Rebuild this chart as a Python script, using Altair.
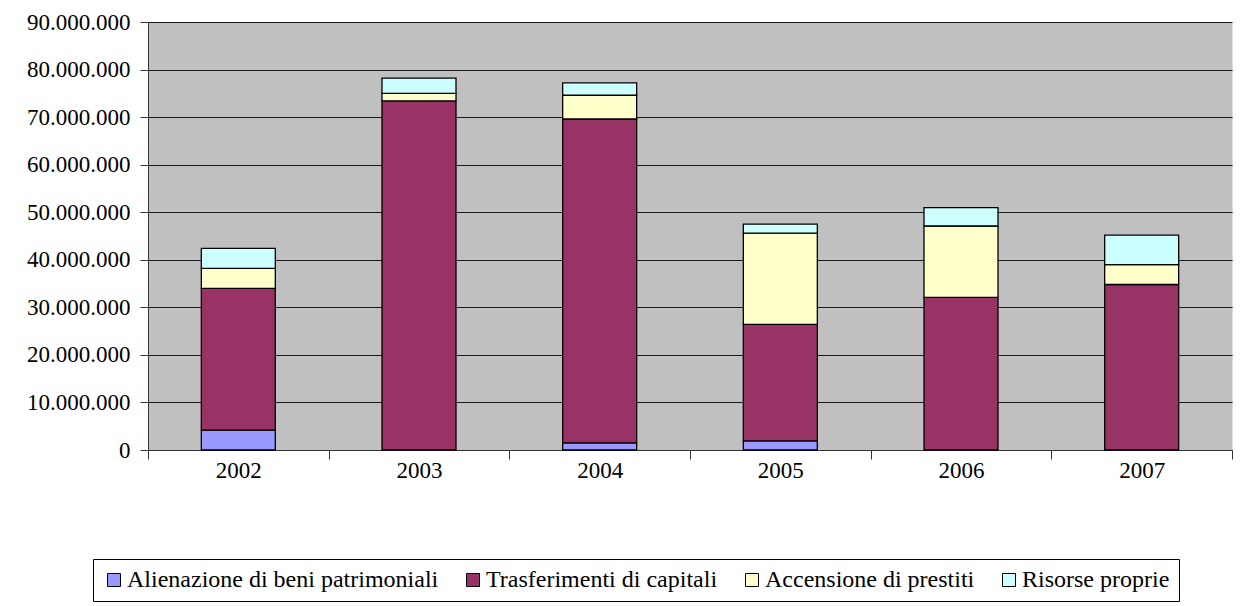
import altair as alt
import pandas as pd

# ---- data ----
anni = ["2002", "2003", "2004", "2005", "2006", "2007"]
voci = [
    "Alienazione di beni patrimoniali",
    "Trasferimenti di capitali",
    "Accensione di prestiti",
    "Risorse proprie",
]
alienazione = [4200000, 0, 1500000, 1900000, 0, 0]
trasferimenti = [29800000, 73400000, 68100000, 24500000, 32100000, 34800000]
accensione = [4200000, 1600000, 5000000, 19200000, 15000000, 4200000]
risorse = [4200000, 3200000, 2600000, 1900000, 3850000, 6200000]
colori = ["#9999FF", "#993366", "#FFFFCC", "#CCFFFF"]
y_ticks = [0, 10000000, 20000000, 30000000, 40000000, 50000000,
           60000000, 70000000, 80000000, 90000000]

serie = [alienazione, trasferimenti, accensione, risorse]
rows = []
for i, anno in enumerate(anni):
    for k, nome in enumerate(voci):
        v = serie[k][i]
        if v > 0:
            rows.append({"anno": anno, "voce": nome, "valore": v, "ordine": k})
df = pd.DataFrame(rows)

FONT = "Liberation Serif"

label_expr = "replace(replace(format(datum.value, ','), ',', '.'), ',', '.')"

chart = alt.Chart(df).mark_bar(size=74, stroke="black", strokeWidth=1.3).encode(
    x=alt.X(
        "anno:N",
        sort=anni,
        scale=alt.Scale(paddingInner=0, paddingOuter=0),
        axis=alt.Axis(
            title=None, labelAngle=0, tickBand="extent", tickSize=9,
            labelPadding=0, labelFontSize=23,
            labelColor="black", domainColor="#333333", tickColor="#333333",
            grid=False,
        ),
    ),
    y=alt.Y(
        "valore:Q",
        stack="zero",
        scale=alt.Scale(domain=[0, 90000000], nice=False),
        axis=alt.Axis(
            title=None, values=y_ticks, labelExpr=label_expr, tickSize=8,
            labelPadding=10, labelFontSize=23,
            labelColor="black", domainColor="#333333", tickColor="#333333",
            grid=True, gridColor="#1a1a1a", gridWidth=1,
        ),
    ),
    color=alt.Color(
        "voce:N",
        scale=alt.Scale(domain=voci, range=colori),
        legend=alt.Legend(
            title=None, orient="none", legendX=-55, legendY=537,
            direction="horizontal", columns=4, columnPadding=22,
            symbolType="square", symbolSize=169, symbolStrokeColor="black",
            symbolStrokeWidth=1, symbolOpacity=1,
            labelFontSize=24, labelColor="black", labelLimit=0,
            labelOffset=1, padding=9, strokeColor="black",
            fillColor="white",
        ),
    ),
    order=alt.Order("ordine:Q", sort="ascending"),
).properties(
    width=1084,
    height=428,
    autosize=alt.AutoSizeParams(type="none"),
    padding={"left": 140, "top": 14, "right": 5, "bottom": 160},
    background="white",
).configure(
    font=FONT
).configure_axis(
    labelFont=FONT
).configure_legend(
    labelFont=FONT
).configure_view(
    fill="#C0C0C0", stroke="transparent"
)

chart.save("out.html", embed_options={"renderer": "svg", "actions": False})
